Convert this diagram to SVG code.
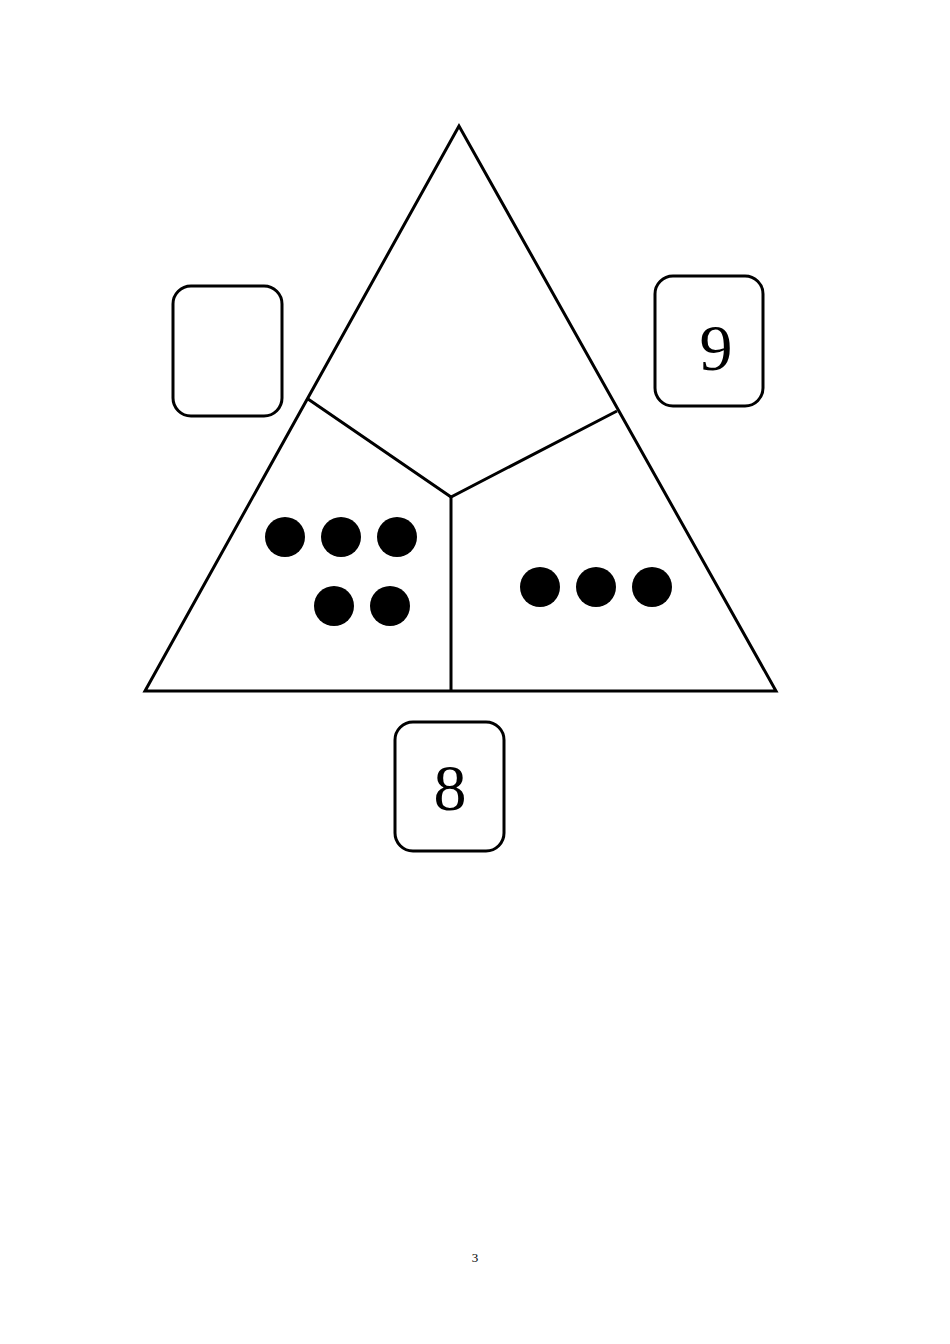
<svg xmlns="http://www.w3.org/2000/svg" width="950" height="1344" viewBox="0 0 950 1344">
<style>
.ln{fill:none;stroke:#000;stroke-width:3;stroke-linejoin:miter}
.box{fill:#fff;stroke:#000;stroke-width:3}
.dot{fill:#000}
.num{font-family:"Liberation Serif",serif;font-size:66px;text-anchor:middle;fill:#000}
.pg{font-family:"Liberation Serif",serif;font-size:13px;text-anchor:middle;fill:#000}
</style>
<rect width="950" height="1344" fill="#fff"/>
<g id="triangle">
<polygon class="ln" points="459,126 145,691 776,691"/>
</g>
<g id="connectors">
<polyline class="ln" points="308,399 451,497 617,411"/>
<line class="ln" x1="451" y1="497" x2="451" y2="691"/>
</g>
<g id="box-left">
<rect class="box" x="173" y="286" width="109" height="130" rx="18"/>
</g>
<g id="box-right">
<rect class="box" x="655" y="276" width="108" height="130" rx="18"/>
<text class="num" x="716" y="370">9</text>
</g>
<g id="box-bottom">
<rect class="box" x="395" y="722" width="109" height="129" rx="18"/>
<text class="num" x="450" y="810">8</text>
</g>
<g id="dots-left">
<circle class="dot" cx="285" cy="537" r="20"/>
<circle class="dot" cx="341" cy="537" r="20"/>
<circle class="dot" cx="397" cy="537" r="20"/>
<circle class="dot" cx="334" cy="606" r="20"/>
<circle class="dot" cx="390" cy="606" r="20"/>
</g>
<g id="dots-right">
<circle class="dot" cx="540" cy="587" r="20"/>
<circle class="dot" cx="596" cy="587" r="20"/>
<circle class="dot" cx="652" cy="587" r="20"/>
</g>
<text class="pg" x="475" y="1262">3</text>
</svg>
